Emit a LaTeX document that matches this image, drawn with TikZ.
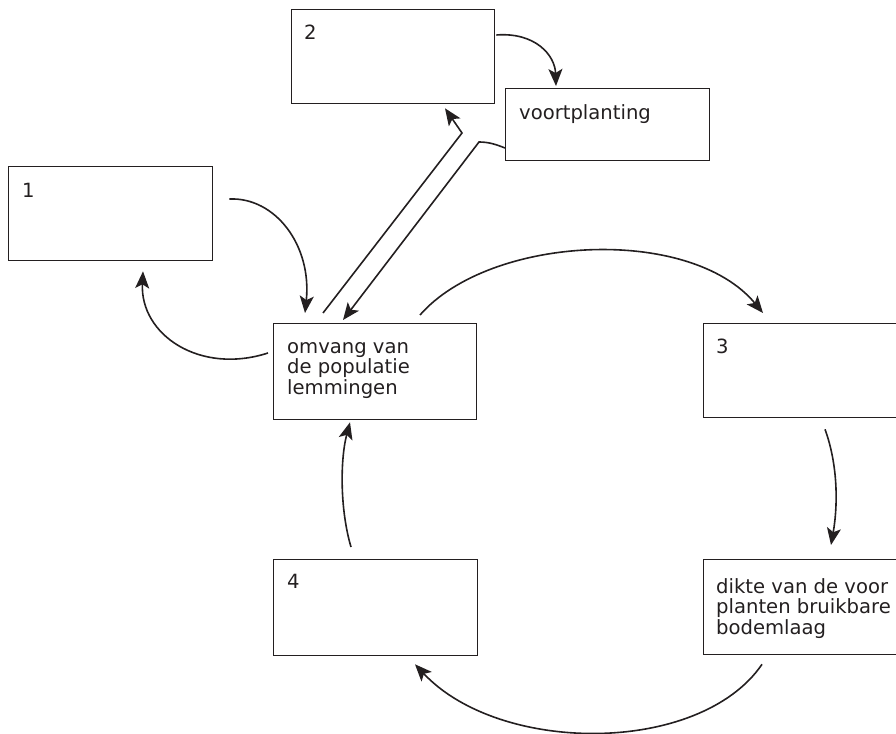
\documentclass[tikz,border=0pt]{standalone}
\usepackage{fontspec}
\setmainfont{DejaVu Sans}
\usetikzlibrary{arrows.meta}
\definecolor{ink}{RGB}{35,31,32}
\begin{document}
\begin{tikzpicture}[x=1pt,y=-1pt,
  box/.style={draw=ink, line width=1.3pt, inner sep=0pt, anchor=north west},
  txt/.style={text=ink, inner sep=0pt, anchor=base west, font={\fontsize{19.6pt}{20.5pt}\selectfont}},
  conn/.style={draw=ink, line width=1.6pt, -{Stealth[length=17pt,width=14pt,inset=4pt]}},
  plain/.style={draw=ink, line width=1.6pt}]
\useasboundingbox (0,0) rectangle (896,733);
\clip (0,0) rectangle (896,733);
% boxes
\node[box, minimum width=203pt, minimum height=94pt] (b2) at (291,9) {};
\node[box, minimum width=204pt, minimum height=72pt] (vp) at (505,88) {};
\node[box, minimum width=204pt, minimum height=94pt] (b1) at (8,166) {};
\node[box, minimum width=203pt, minimum height=96pt] (om) at (273,323) {};
\node[box, minimum width=220pt, minimum height=94pt] (b3) at (703,323) {};
\node[box, minimum width=220pt, minimum height=95pt] (dk) at (703,559) {};
\node[box, minimum width=204pt, minimum height=96pt] (b4) at (273,559) {};
% texts
\node[txt] (t2) at (304,40) {2};
\node[txt] (tvp) at (519,120) {voortplanting};
\node[txt] (t1) at (22,197) {1};
\node[txt] (tom) at (287,353) {\vtop{\hbox{omvang van}\hbox{de populatie}\hbox{lemmingen}}};
\node[txt] (t3) at (716,353) {3};
\node[txt] (tdk) at (716,593) {\vtop{\hbox{dikte van de voor}\hbox{planten bruikbare}\hbox{bodemlaag}}};
\node[txt] (t4) at (287,588) {4};
% connectors
\draw[conn] ([shift={(16,33)}]b1.north east) .. controls (275,197) and (312,245) .. ([shift={(32,-10)}]om.north west);
\draw[conn] ([shift={(-5,30)}]om.north west) .. controls (200,375) and (140,335) .. ([shift={(135,10)}]b1.south west);
\draw[conn] ([shift={(147,-8)}]om.north west) .. controls (490,235) and (690,225) .. ([shift={(60,-10)}]b3.north west);
\draw[conn] ([shift={(122,11)}]b3.south west) .. controls (838,465) and (838,505) .. ([shift={(128,-14)}]dk.north west);
\draw[conn] ([shift={(59,9)}]dk.south west) .. controls (700,755) and (500,755) .. ([shift={(142,8)}]b4.south west);
\draw[conn] ([shift={(78,-12)}]b4.north west) .. controls (340,510) and (340,460) .. ([shift={(77,2)}]om.south west);
\draw[conn] ([shift={(1,26)}]b2.north east) .. controls (535,32) and (555,55) .. ([shift={(51,-2)}]vp.north west);
\draw[conn] ([shift={(50,-10)}]om.north west) -- (462,133) -- ([shift={(154,4)}]b2.south west);
\draw[conn] ([shift={(0,60)}]vp.north west) .. controls (495,144) and (488,142) .. (479,142) -- ([shift={(70,-3)}]om.north west);
\end{tikzpicture}
\end{document}
